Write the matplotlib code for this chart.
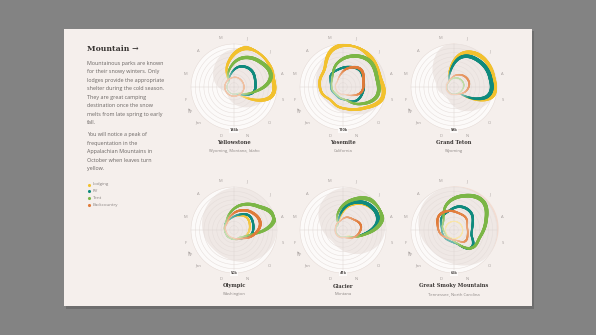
import numpy as np
import matplotlib
matplotlib.use("Agg")
import matplotlib.pyplot as plt
from matplotlib.patches import Rectangle
from matplotlib.collections import LineCollection
from matplotlib.colors import to_rgb

# ---------------- data ----------------
month_labels = ["Jan", "F", "M", "A", "M", "J", "J", "A", "S", "O", "N", "D"]
series_names = ["Lodging", "RV", "Tent", "Backcountry"]
series_colors = ["#f2c12e", "#0f8a7d", "#7bb646", "#e07b39"]

park_names = ["Yellowstone", "Yosemite", "Grand Teton",
              "Olympic", "Glacier", "Great Smoky Mountains"]
park_states = ["Wyoming, Montana, Idaho", "California", "Wyoming",
               "Washington", "Montana", "Tennessee, North Carolina"]
park_max = [146, 110, 58, 50, 41, 65]
park_max_labels = ["146k", "110k", "58k", "50k", "41k", "65k"]

# monthly overnight stays (thousands), Jan..Dec
yellowstone_lodging = [0, 0, 0, 0, 69, 134, 146, 134, 126, 28, 0, 0]
yellowstone_rv = [0, 0, 0, 1, 24, 57, 69, 61, 53, 16, 0, 0]
yellowstone_tent = [0, 0, 0, 0, 45, 93, 118, 126, 53, 8, 0, 0]
yellowstone_backcountry = [9, 9, 9, 9, 10, 12, 12, 12, 12, 10, 9, 9]

yosemite_lodging = [34, 46, 52, 58, 98, 110, 102, 95, 104, 70, 49, 40]
yosemite_rv = [12, 15, 18, 31, 34, 42, 51, 44, 41, 37, 20, 15]
yosemite_tent = [9, 12, 15, 24, 52, 76, 92, 86, 86, 52, 21, 12]
yosemite_backcountry = [1, 1, 2, 3, 15, 38, 55, 43, 37, 15, 2, 1]

grandteton_lodging = [0, 0, 0, 0, 16, 45, 55, 54, 51, 6, 0, 0]
grandteton_rv = [0, 0, 0, 0, 13, 39, 47, 49, 45, 6, 0, 0]
grandteton_tent = [0, 0, 0, 0, 2, 4, 5, 5, 3, 1, 0, 0]
grandteton_backcountry = [1, 1, 1, 1, 4, 9, 13, 14, 10, 4, 1, 1]

olympic_lodging = [3, 3, 4, 4, 7, 11, 15, 13, 10, 6, 4, 3]
olympic_rv = [3, 3, 4, 6, 7, 12, 19, 18, 15, 7, 4, 3]
olympic_tent = [3, 3, 4, 6, 14, 26, 37, 48, 15, 4, 3, 3]
olympic_backcountry = [1, 1, 3, 4, 10, 18, 25, 28, 18, 7, 3, 1]

glacier_lodging = [0, 0, 0, 0, 6, 21, 32, 34, 15, 2, 0, 0]
glacier_rv = [0, 0, 0, 0, 8, 23, 33, 33, 14, 3, 0, 0]
glacier_tent = [0, 0, 0, 0, 13, 27, 39, 38, 15, 3, 0, 0]
glacier_backcountry = [1, 1, 1, 2, 3, 7, 9, 13, 10, 5, 1, 1]

smoky_lodging = [3, 3, 3, 3, 3, 3, 3, 3, 3, 3, 3, 3]
smoky_rv = [9, 9, 11, 19, 23, 31, 31, 22, 20, 32, 14, 9]
smoky_tent = [5, 5, 9, 14, 36, 51, 61, 47, 36, 33, 13, 5]
smoky_backcountry = [7, 13, 18, 25, 23, 19, 18, 12, 13, 16, 7, 5]

# average temperature shading (deg F), Jan..Dec
yellowstone_temp = [21, 25, 42, 59, 75, 82, 88, 84, 75, 57, 42, 29]
yosemite_temp = [46, 52, 59, 67, 80, 88, 90, 90, 88, 75, 59, 50]
grandteton_temp = [25, 33, 40, 63, 88, 90, 90, 90, 84, 67, 50, 33]
olympic_temp = [59, 63, 69, 77, 86, 90, 90, 90, 88, 80, 69, 61]
glacier_temp = [33, 38, 50, 69, 84, 90, 90, 90, 84, 67, 50, 38]
smoky_temp = [63, 69, 77, 86, 90, 92, 94, 94, 92, 88, 77, 67]
TEMP_MAX = 90

park_series = [
    [yellowstone_lodging, yellowstone_rv, yellowstone_tent, yellowstone_backcountry],
    [yosemite_lodging, yosemite_rv, yosemite_tent, yosemite_backcountry],
    [grandteton_lodging, grandteton_rv, grandteton_tent, grandteton_backcountry],
    [olympic_lodging, olympic_rv, olympic_tent, olympic_backcountry],
    [glacier_lodging, glacier_rv, glacier_tent, glacier_backcountry],
    [smoky_lodging, smoky_rv, smoky_tent, smoky_backcountry],
]
park_temps = [yellowstone_temp, yosemite_temp, grandteton_temp,
              olympic_temp, glacier_temp, smoky_temp]

# ---------------- layout ----------------
W, H = 596, 335
fig = plt.figure(figsize=(W / 100, H / 100), dpi=100)
fig.patch.set_facecolor("#838383")

base = fig.add_axes([0, 0, 1, 1])
base.set_xlim(0, W)
base.set_ylim(H, 0)
base.axis("off")
base.add_patch(Rectangle((66, 31), 468, 278, facecolor="#6e6e6e", edgecolor="none", zorder=0))
base.add_patch(Rectangle((64, 29), 468, 277, facecolor="#f5efec", edgecolor="none", zorder=1))

CARD_TEXT = "#6a6563"
base.text(87, 49, "Mountain \u2192", fontsize=5.6, fontweight="bold", family="DejaVu Serif",
          color="#3a3634", va="center", ha="left", zorder=3)
para1 = ["Mountainous parks are known", "for their snowy winters. Only",
         "lodges provide the appropriate", "shelter during the cold season.",
         "They are great camping", "destination once the snow",
         "melts from late spring to early", "fall."]
para2 = ["You will notice a peak of", "frequentation in the",
         "Appalachian Mountains in", "October when leaves turn", "yellow."]
for i, line in enumerate(para1):
    base.text(87, 63.5 + i * 8.45, line, fontsize=3.9, family="Open Sans",
              color=CARD_TEXT, va="center", ha="left", zorder=3)
for i, line in enumerate(para2):
    base.text(87, 134.5 + i * 8.5, line, fontsize=3.9, family="Open Sans",
              color=CARD_TEXT, va="center", ha="left", zorder=3)
for i, (name, col) in enumerate(zip(series_names, series_colors)):
    y = 184.5 + i * 6.9
    base.scatter([88.5], [y], s=5, color=col, zorder=3, linewidths=0)
    base.text(93, y, name, fontsize=3.2, family="Open Sans", color="#8a8482",
              va="center", ha="left", zorder=3)

centers = [(234, 87), (343, 87), (454, 87), (234, 230), (343, 230), (454, 230)]
R = 43.0        # px radius of chart disk
R0 = 7.0        # px radius of inner hole
RB = R * 100 / TEMP_MAX  # background axes radius (r=100)

month_theta = np.radians(225 + 30 * np.arange(12))


def smooth_closed(vals, n=30):
    v = np.asarray(vals, float)
    N = len(v)
    ts = np.linspace(0, 1, n, endpoint=False)
    th, rr = [], []
    for i in range(N):
        p0, p1, p2, p3 = v[(i - 1) % N], v[i], v[(i + 1) % N], v[(i + 2) % N]
        r = 0.5 * (2 * p1 + (-p0 + p2) * ts + (2 * p0 - 5 * p1 + 4 * p2 - p3) * ts ** 2
                   + (-p0 + 3 * p1 - 3 * p2 + p3) * ts ** 3)
        th.append(month_theta[i] + np.radians(30) * ts)
        rr.append(r)
    th = np.concatenate(th + [th[0][:1] + 2 * np.pi])
    rr = np.concatenate(rr + [rr[0][:1]])
    return th, np.clip(rr, 0, None)


def polar_axes(cx, cy, rad, z):
    ax = fig.add_axes([(cx - rad) / W, 1 - (cy + rad) / H, 2 * rad / W, 2 * rad / H],
                      projection="polar", zorder=z)
    ax.set_theta_zero_location("N")
    ax.set_theta_direction(-1)
    ax.patch.set_alpha(0)
    return ax


full = np.linspace(0, 2 * np.pi, 361)
white = np.array([1.0, 1.0, 1.0])

for k, (cx, cy) in enumerate(centers):
    # ---- background: disk, temperature shading, grid, labels ----
    bg = polar_axes(cx, cy, RB, 2)
    bg.set_ylim(0, 100)
    bg.grid(False)
    bg.spines["polar"].set_visible(False)
    bg.set_xticks([])
    bg.set_yticks([])
    tth, ttr = smooth_closed(park_temps[k])
    bg.fill(tth, np.maximum(ttr, TEMP_MAX), color="#f3ddd2", lw=0, zorder=1)
    bg.fill(full, np.full_like(full, TEMP_MAX), color="#fcfaf9", lw=0, zorder=1.1)
    bg.fill(tth, np.minimum(ttr, TEMP_MAX), color="#efe8e5", lw=0, zorder=1.2)
    for rg in np.arange(9, TEMP_MAX + 0.1, 9):
        bg.plot(full, np.full_like(full, rg), color="#e4dcd9", lw=0.35, zorder=1.5)
    for ang in [0, 90, 180, 270]:
        bg.plot([np.radians(ang)] * 2, [0, TEMP_MAX], color="#ddd5d2", lw=0.35, zorder=1.5)
    rl = 50.5 / RB * 100
    for i, lab in enumerate(month_labels):
        bg.text(month_theta[i], rl, lab, fontsize=3.0, color="#a39c9a",
                ha="center", va="center", family="Open Sans", clip_on=False)
    bg.annotate("", xy=(np.radians(248), rl), xytext=(np.radians(236), rl),
                arrowprops=dict(arrowstyle="->,head_length=0.25,head_width=0.12",
                                color="#a39c9a", lw=0.4), annotation_clip=False)
    bg.text(np.pi, TEMP_MAX, park_max_labels[k], fontsize=2.9, fontweight="bold",
            color="#4d4846", ha="center", va="center", family="Open Sans", clip_on=False,
            bbox=dict(boxstyle="square,pad=0.15", fc="#fcfaf9", ec="none"))

    # ---- foreground: series ribbons ----
    ax = polar_axes(cx, cy, R, 3)
    vmax = park_max[k]
    ax.set_ylim(0, vmax)
    ax.set_rorigin(-vmax * R0 / (R - R0))
    ax.axis("off")
    for vals, col in zip(park_series[k], series_colors):
        th, rr = smooth_closed(vals)
        pts = np.column_stack([th, rr])
        segs = np.stack([pts[:-1], pts[1:]], axis=1)
        mid = 0.5 * (rr[:-1] + rr[1:]) / vmax
        lw = 0.4 + 2.7 * mid ** 0.8
        a = np.clip(0.3 + 2.2 * mid, 0, 1)[:, None]
        cols = a * np.array(to_rgb(col)) + (1 - a) * white
        lc = LineCollection(segs, colors=cols, linewidths=lw, capstyle="round",
                            transform=ax.transData, zorder=2)
        ax.add_collection(lc)

    base.text(cx, cy + 56, park_names[k], fontsize=3.7, fontweight="bold",
              family="DejaVu Serif", color="#3a3634", ha="center", va="center", zorder=3)
    base.text(cx, cy + 64, park_states[k], fontsize=3.0, family="Open Sans",
              color="#8d8785", ha="center", va="center", zorder=3)

fig.savefig("out.png", dpi=100, facecolor=fig.get_facecolor())
